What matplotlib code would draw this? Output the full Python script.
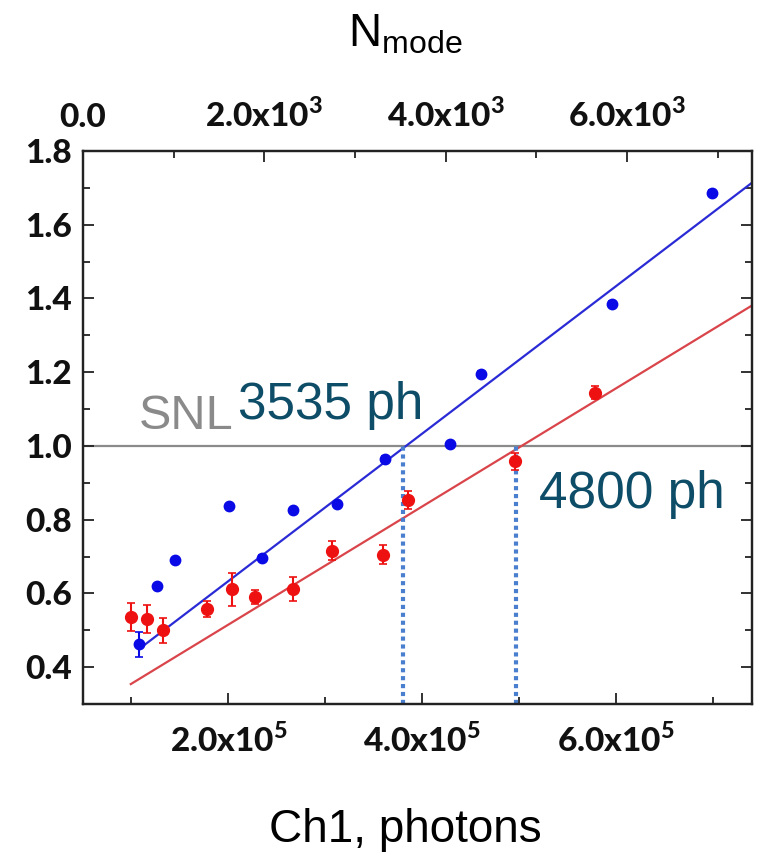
import matplotlib
matplotlib.use('Agg')
import matplotlib.pyplot as plt
from matplotlib.ticker import FixedLocator, FixedFormatter, NullFormatter

# ---------------- data ----------------
blue_x = [1.078e5, 1.261e5, 1.449e5, 2.009e5, 2.343e5, 2.663e5, 3.116e5, 3.614e5, 4.285e5, 4.604e5, 5.951e5, 6.989e5]
blue_y = [0.462, 0.620, 0.690, 0.837, 0.697, 0.827, 0.843, 0.964, 1.004, 1.195, 1.386, 1.685]
blue_err = [0.034, 0.006, 0.006, 0.006, 0.006, 0.006, 0.006, 0.008, 0.008, 0.008, 0.008, 0.008]

red_x = [0.993e5, 1.164e5, 1.329e5, 1.782e5, 2.034e5, 2.274e5, 2.669e5, 3.065e5, 3.591e5, 3.849e5, 4.955e5, 5.779e5]
red_y = [0.537, 0.530, 0.500, 0.557, 0.611, 0.590, 0.612, 0.716, 0.705, 0.854, 0.958, 1.144]
red_err = [0.038, 0.038, 0.034, 0.022, 0.045, 0.018, 0.032, 0.025, 0.025, 0.025, 0.022, 0.018]

blue_fit_x = [1.078e5, 7.40e5]
blue_fit_y = [0.449, 1.714]
red_fit_x = [0.993e5, 7.40e5]
red_fit_y = [0.354, 1.381]

snl_level = 1.0
cross_blue_x = 3.80e5
cross_red_x = 4.97e5

bottom_major = [2e5, 4e5, 6e5]
bottom_labels = ["2.0x10$^{\\mathregular{5}}$", "4.0x10$^{\\mathregular{5}}$", "6.0x10$^{\\mathregular{5}}$"]
bottom_minor = [1e5, 3e5, 5e5, 7e5]
top_major = [0, 2e3, 4e3, 6e3]
top_labels = ["0.0", "2.0x10$^{\\mathregular{3}}$", "4.0x10$^{\\mathregular{3}}$", "6.0x10$^{\\mathregular{3}}$"]
top_minor = [1e3, 3e3, 5e3, 7e3]
y_major = [0.4, 0.6, 0.8, 1.0, 1.2, 1.4, 1.6, 1.8]
y_labels = ["0.4", "0.6", "0.8", "1.0", "1.2", "1.4", "1.6", "1.8"]
y_minor = [0.3, 0.5, 0.7, 0.9, 1.1, 1.3, 1.5, 1.7]

# ---------------- figure ----------------
W, H = 767, 857
fig = plt.figure(figsize=(W / 100, H / 100), dpi=100)
L, R, T, B = 83, 752, 151, 704
ax = fig.add_axes([L / W, 1 - B / H, (R - L) / W, (B - T) / H])
ax.set_xlim(0.5e5, 7.4e5)
ax.set_ylim(0.3, 1.8)

TICK_SIZE = 24
TICK_WEIGHT = 'black'
label_font = dict(family='Liberation Sans', size=33)

ax.axhline(snl_level, color='#8a8a8a', lw=1.6, zorder=1)
ax.plot(blue_fit_x, blue_fit_y, color='#2b2bd6', lw=1.6, zorder=2)
ax.plot(red_fit_x, red_fit_y, color='#d9454a', lw=1.6, zorder=2)

ax.errorbar(blue_x, blue_y, yerr=blue_err, fmt='o', color='#0a0ae6', ms=7.5,
            elinewidth=1.5, capsize=3, capthick=1.2, zorder=4)
ax.errorbar(red_x, red_y, yerr=red_err, fmt='o', color='#ee1111', ms=8.5,
            elinewidth=1.5, capsize=3, capthick=1.2, zorder=3)

for cx in (cross_blue_x, cross_red_x):
    ax.plot([cx, cx], [0.3, snl_level], color='#4a7fd0', lw=3.0,
            linestyle=(0, (1.0, 0.9)), zorder=2, clip_on=False)

ax.text(1.08e5, 1.045, "SNL", color='#8a8a8a', fontsize=35,
        family='Liberation Sans', ha='left', va='baseline')
ax.text(2.10e5, 1.074, "3535 ph", color='#0e4d68', fontsize=37,
        family='Liberation Sans', ha='left', va='baseline')
ax.text(5.20e5, 0.833, "4800 ph", color='#0e4d68', fontsize=37,
        family='Liberation Sans', ha='left', va='baseline')

# ticks
ax.xaxis.set_major_locator(FixedLocator(bottom_major))
ax.xaxis.set_major_formatter(FixedFormatter(bottom_labels))
ax.xaxis.set_minor_locator(FixedLocator(bottom_minor))
ax.xaxis.set_minor_formatter(NullFormatter())
ax.yaxis.set_major_locator(FixedLocator(y_major))
ax.yaxis.set_major_formatter(FixedFormatter(y_labels))
ax.yaxis.set_minor_locator(FixedLocator(y_minor))
ax.yaxis.set_minor_formatter(NullFormatter())
ax.tick_params(axis='x', which='both', direction='in', top=False, bottom=True)
ax.tick_params(axis='y', which='both', direction='in', left=True, right=True)
ax.tick_params(which='major', length=8, width=1.3, color='#222222')
ax.tick_params(which='minor', length=5, width=1.3, color='#222222')
ax.tick_params(axis='x', which='major', pad=13)
ax.tick_params(axis='y', which='major', pad=8)
for lab in ax.get_xticklabels() + ax.get_yticklabels():
    lab.set_fontfamily('Lato')
    lab.set_fontweight(TICK_WEIGHT)
    lab.set_fontsize(TICK_SIZE)
    lab.set_color('#111111')

# top axis (N_mode)
ax2 = ax.twiny()
ax2.set_xlim(0, 7.38e3)
ax2.xaxis.set_major_locator(FixedLocator(top_major))
ax2.xaxis.set_major_formatter(FixedFormatter(top_labels))
ax2.xaxis.set_minor_locator(FixedLocator(top_minor))
ax2.xaxis.set_minor_formatter(NullFormatter())
ax2.tick_params(axis='x', which='both', direction='in', top=True, bottom=False)
ax2.tick_params(which='major', length=8, width=1.3, color='#222222', pad=14)
ax2.tick_params(which='minor', length=5, width=1.3, color='#222222')
for lab in ax2.get_xticklabels():
    lab.set_fontfamily('Lato')
    lab.set_fontweight(TICK_WEIGHT)
    lab.set_fontsize(TICK_SIZE)
    lab.set_color('#111111')

for a in (ax, ax2):
    for sp in a.spines.values():
        sp.set_linewidth(1.6)
        sp.set_color('#222222')

fig.text(405 / W, 1 - 35 / H, "N$_{\\mathregular{mode}}$", ha='center', va='center', **label_font)
fig.text(405 / W, 1 - 830 / H, "Ch1, photons", ha='center', va='center', **label_font)

fig.savefig('out.png', dpi=100)
